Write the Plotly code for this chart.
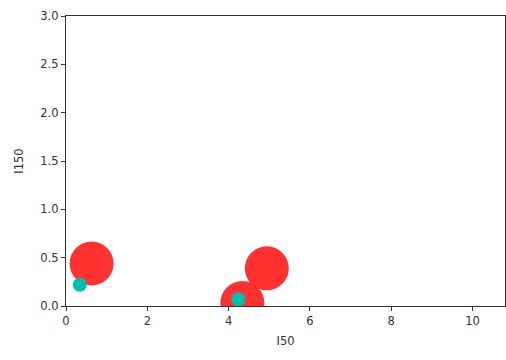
import plotly.graph_objects as go

# Large markers: I50 / I150 pairs
big_x = [0.63, 4.94, 4.34]
big_y = [0.44, 0.39, 0.03]

# Small markers
small_x = [0.34, 4.24]
small_y = [0.22, 0.07]

x_ticks = [0, 2, 4, 6, 8, 10]
y_ticks = [0.0, 0.5, 1.0, 1.5, 2.0, 2.5, 3.0]

fig = go.Figure()
fig.add_trace(go.Scatter(
    x=big_x, y=big_y, mode="markers", cliponaxis=True,
    marker=dict(size=44, color="#ff1f1f", opacity=0.92, line=dict(width=0)),
    showlegend=False,
))
fig.add_trace(go.Scatter(
    x=small_x, y=small_y, mode="markers", cliponaxis=True,
    marker=dict(size=14, color="#00bfae", line=dict(width=0)),
    showlegend=False,
))

axis_common = dict(
    showgrid=False, zeroline=False, showline=True, linecolor="#333333",
    linewidth=1.2, ticks="outside", ticklen=4, tickcolor="#333333",
    tickfont=dict(family="DejaVu Sans", size=11.5, color="#333333"),
    mirror=True,
)

fig.update_layout(
    width=506, height=360,
    margin=dict(l=66, r=1, t=16, b=54),
    paper_bgcolor="white", plot_bgcolor="white",
    xaxis=dict(range=[0, 10.8], tickvals=x_ticks, ticktext=[str(v) for v in x_ticks],
               title=dict(text="I50", font=dict(family="DejaVu Sans", size=11.5, color="#333333"),
                          standoff=10),
               **axis_common),
    yaxis=dict(range=[0, 3.0], tickvals=y_ticks, ticktext=[f"{v:.1f}" for v in y_ticks],
               title=dict(text="I150", font=dict(family="DejaVu Sans", size=11.5, color="#333333"),
                          standoff=14),
               **axis_common),
)

fig.write_html("out.html")
